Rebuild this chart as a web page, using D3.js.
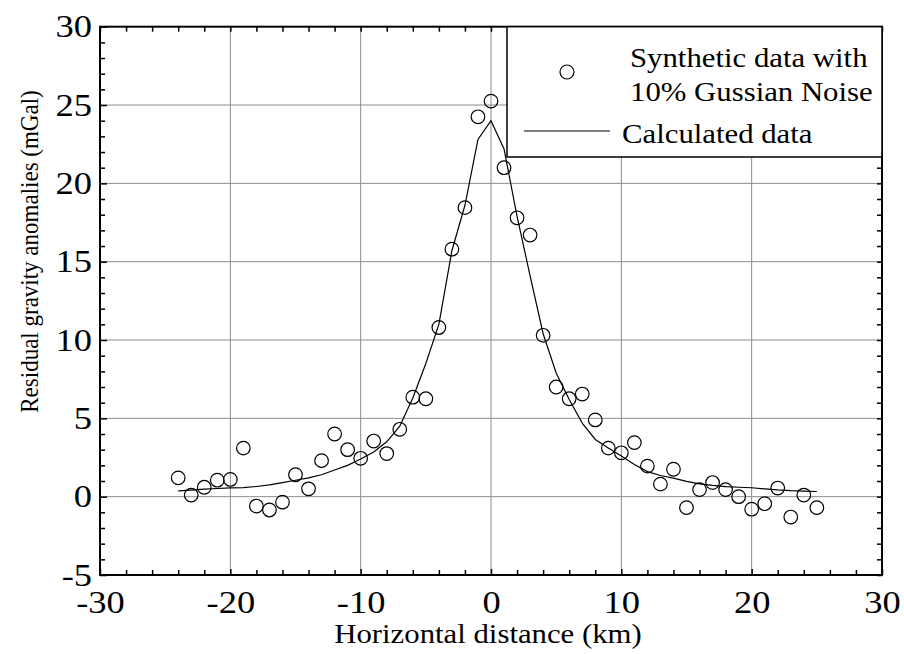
<!DOCTYPE html>
<html>
<head>
<meta charset="utf-8">
<script src="https://cdn.jsdelivr.net/npm/d3@7"></script>
<style>
  body { margin: 0; background: #fff; }
</style>
</head>
<body>
<script>
'use strict';

// horizontal distance of each station (km)
const distance = [-24, -23, -22, -21, -20, -19, -18, -17, -16, -15, -14, -13, -12, -11, -10,
  -9, -8, -7, -6, -5, -4, -3, -2, -1, 0, 1, 2, 3, 4, 5, 6, 7, 8, 9, 10,
  11, 12, 13, 14, 15, 16, 17, 18, 19, 20, 21, 22, 23, 24, 25];

// synthetic data with noise (mGal)
const observed = [1.2, 0.1, 0.6, 1.05, 1.1, 3.1, -0.6, -0.85, -0.35, 1.4, 0.5, 2.3, 4.0, 3.0, 2.45,
  3.55, 2.75, 4.3, 6.35, 6.25, 10.8, 15.8, 18.45, 24.25, 25.25, 21.0, 17.8, 16.7, 10.3, 7.0, 6.25, 6.55, 4.9, 3.1, 2.8,
  3.45, 1.95, 0.8, 1.75, -0.7, 0.45, 0.9, 0.45, 0.0, -0.8, -0.45, 0.55, -1.3, 0.1, -0.7];

// calculated data (mGal)
const calculated = [0.37, 0.42, 0.48, 0.52, 0.56, 0.58, 0.65, 0.75, 0.9, 1.05, 1.2, 1.4, 1.7, 2.0, 2.4,
  2.85, 3.5, 4.5, 6.3, 8.5, 11.0, 15.7, 18.6, 22.8, 24.0, 22.2, 17.9, 14.1, 10.4, 7.9, 6.2, 4.7, 3.65, 3.1, 2.6,
  2.05, 1.6, 1.35, 1.18, 0.98, 0.82, 0.72, 0.64, 0.6, 0.57, 0.5, 0.43, 0.38, 0.35, 0.33];

const xTicks = [-30, -20, -10, 0, 10, 20, 30];
const xMinor = [-28, -26, -24, -22, -18, -16, -14, -12, -8, -6, -4, -2, 2, 4, 6, 8, 12, 14, 16, 18, 22, 24, 26, 28];
const yTicks = [-5, 0, 5, 10, 15, 20, 25, 30];
const yMinor = [-4, -3, -2, -1, 1, 2, 3, 4, 6, 7, 8, 9, 11, 12, 13, 14, 16, 17, 18, 19, 21, 22, 23, 24, 26, 27, 28, 29];

const legendLabels = ["Synthetic data with", "10% Gussian Noise", "Calculated data"];

(function() {

  const width = 904;
  const height = 654;
  const plotLeft = 100, plotRight = 882, plotTop = 26.7, plotBottom = 575;
  const font = "'Liberation Serif', 'Times New Roman', serif";
  const stretch = "scale(1.14,1)"; // the source picture is a bit wide
  const plain = d => String(d); // hyphen-minus like the original

  const svg = d3.select('body')
    .append('svg')
    .attr('width', width)
    .attr('height', height);

  const x = d3.scaleLinear().domain([-30, 30]).range([plotLeft, plotRight]);
  const y = d3.scaleLinear().domain([-5, 30]).range([plotBottom, plotTop]);

  // grid
  svg.append('g')
    .selectAll('line')
    .data(xTicks.slice(1, -1))
    .enter()
    .append('line')
      .attr('x1', d => x(d)).attr('x2', d => x(d))
      .attr('y1', plotTop).attr('y2', plotBottom)
      .attr('stroke', '#8c8c8c').attr('stroke-width', 1);

  svg.append('g')
    .selectAll('line')
    .data(yTicks.slice(1, -1))
    .enter()
    .append('line')
      .attr('y1', d => y(d)).attr('y2', d => y(d))
      .attr('x1', plotLeft).attr('x2', plotRight)
      .attr('stroke', '#8c8c8c').attr('stroke-width', 1);

  // axes, ticks pointing inward
  function styleAxis(g) {
    g.select('.domain').remove();
    g.selectAll('line').attr('stroke', '#000').attr('stroke-width', 1.5);
    g.selectAll('text')
      .style('font-family', font)
      .style('font-size', '32px')
      .attr('fill', '#000')
      .attr('transform', stretch);
  }

  svg.append('g')
    .attr('transform', `translate(0,${plotBottom})`)
    .call(d3.axisBottom(x).tickValues(xTicks).tickSizeInner(-6).tickSizeOuter(0).tickPadding(15)
      .tickFormat(plain))
    .call(styleAxis);

  svg.append('g')
    .attr('transform', `translate(0,${plotBottom})`)
    .call(d3.axisBottom(x).tickValues(xMinor).tickSizeInner(-5).tickSizeOuter(0).tickFormat(''))
    .call(styleAxis);

  svg.append('g')
    .attr('transform', `translate(0,${plotTop})`)
    .call(d3.axisTop(x).tickValues(xTicks.concat(xMinor)).tickSizeInner(-5).tickSizeOuter(0).tickFormat(''))
    .call(styleAxis);

  svg.append('g')
    .attr('transform', `translate(${plotLeft},0)`)
    .call(d3.axisLeft(y).tickValues(yTicks).tickSizeInner(-7).tickSizeOuter(0).tickPadding(7)
      .tickFormat(plain))
    .call(styleAxis);

  svg.append('g')
    .attr('transform', `translate(${plotLeft},0)`)
    .call(d3.axisLeft(y).tickValues(yMinor).tickSizeInner(-5).tickSizeOuter(0).tickFormat(''))
    .call(styleAxis);

  svg.append('g')
    .attr('transform', `translate(${plotRight},0)`)
    .call(d3.axisRight(y).tickValues(yTicks.concat(yMinor)).tickSizeInner(-5).tickSizeOuter(0).tickFormat(''))
    .call(styleAxis);

  // frame
  svg.append('rect')
    .attr('x', plotLeft).attr('y', plotTop)
    .attr('width', plotRight - plotLeft).attr('height', plotBottom - plotTop)
    .attr('fill', 'none').attr('stroke', '#000').attr('stroke-width', 2);

  // calculated curve
  const line = d3.line()
    .x((d, i) => x(distance[i]))
    .y(d => y(d));

  svg.append('path')
    .datum(calculated)
    .attr('d', line)
    .attr('fill', 'none')
    .attr('stroke', '#000')
    .attr('stroke-width', 1.2);

  // synthetic points
  svg.append('g')
    .selectAll('circle')
    .data(observed)
    .enter()
    .append('circle')
      .attr('cx', (d, i) => x(distance[i]))
      .attr('cy', d => y(d))
      .attr('r', 6.8)
      .attr('fill', 'none')
      .attr('stroke', '#000')
      .attr('stroke-width', 1.2);

  // legend
  const legend = svg.append('g');
  legend.append('rect')
    .attr('x', 507).attr('y', plotTop)
    .attr('width', plotRight - 507).attr('height', 157 - plotTop)
    .attr('fill', '#fff').attr('stroke', '#000').attr('stroke-width', 1.5);

  legend.append('circle')
    .attr('cx', 567).attr('cy', 72).attr('r', 7)
    .attr('fill', 'none').attr('stroke', '#000').attr('stroke-width', 1.2);

  legend.append('line')
    .attr('x1', 524).attr('x2', 610)
    .attr('y1', 131).attr('y2', 131)
    .attr('stroke', '#000').attr('stroke-width', 1.2);

  const legendPos = [[630, 67], [630, 101], [622, 143]];
  legend.selectAll('text')
    .data(legendLabels)
    .enter()
    .append('text')
      .attr('transform', (d, i) => `translate(${legendPos[i][0]},${legendPos[i][1]}) ${stretch}`)
      .style('font-family', font)
      .style('font-size', '27px')
      .text(d => d);

  // axis titles
  svg.append('text')
    .attr('transform', `translate(488,643) ${stretch}`)
    .style('text-anchor', 'middle')
    .style('font-family', font)
    .style('font-size', '27px')
    .text('Horizontal distance (km)');

  svg.append('text')
    .attr('transform', `translate(38,251.5) ${stretch} rotate(-90)`)
    .style('text-anchor', 'middle')
    .style('font-family', font)
    .style('font-size', '23px')
    .text('Residual gravity anomalies (mGal)');

})();
</script>
</body>
</html>
